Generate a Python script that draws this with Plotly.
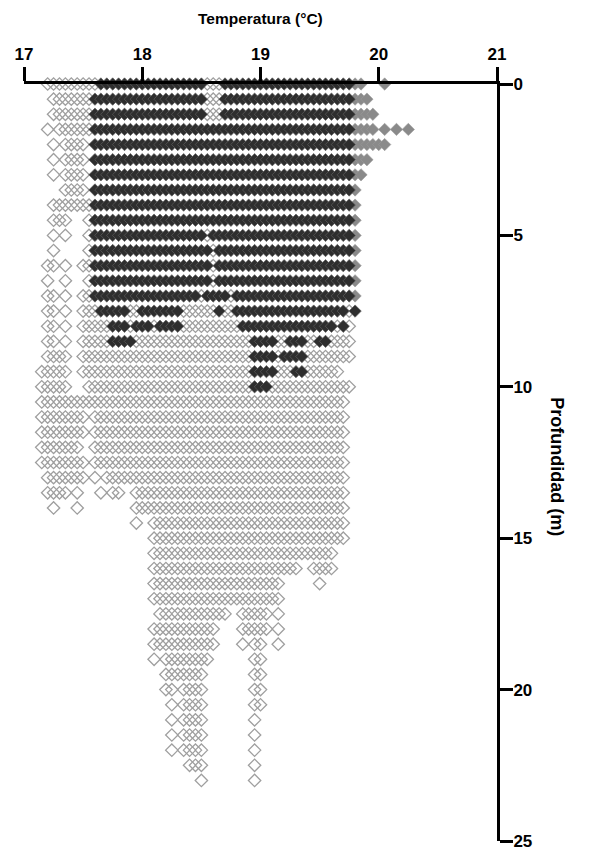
import plotly.graph_objects as go

# Depth of each measurement row (m)
DEPTHS = [0.0, 0.5, 1.0, 1.5, 2.0, 2.5, 3.0, 3.5, 4.0, 4.5, 5.0, 5.5, 6.0, 6.5,
          7.0, 7.5, 8.0, 8.5, 9.0, 9.5, 10.0, 10.5, 11.0, 11.5, 12.0, 12.5,
          13.0, 13.5, 14.0, 14.5, 15.0, 15.5, 16.0, 16.5, 17.0, 17.5, 18.0,
          18.5, 19.0, 19.5, 20.0, 20.5, 21.0, 21.5, 22.0, 22.5, 23.0]

# Temperature bins (°C) at which observations appear
TEMP_BINS = [17.00, 17.05, 17.10, 17.15, 17.20, 17.25, 17.30, 17.35, 17.40, 17.45,
             17.50, 17.55, 17.60, 17.65, 17.70, 17.75, 17.80, 17.85, 17.90, 17.95,
             18.00, 18.05, 18.10, 18.15, 18.20, 18.25, 18.30, 18.35, 18.40, 18.45,
             18.50, 18.55, 18.60, 18.65, 18.70, 18.75, 18.80, 18.85, 18.90, 18.95,
             19.00, 19.05, 19.10, 19.15, 19.20, 19.25, 19.30, 19.35, 19.40, 19.45,
             19.50, 19.55, 19.60, 19.65, 19.70, 19.75, 19.80, 19.85, 19.90, 19.95,
             20.00, 20.05, 20.10, 20.15, 20.20, 20.25, 20.30]

# Per depth row: run-length list of observation classes over TEMP_BINS
# '.' none, 'o' open diamond, 'g' grey diamond, 'd' dark diamond
ROWS = [
    "4. 9o 18d 3o 22d 2g 3. 1g",
    "5. 7o 19d 3o 22d 3g",
    "5. 7o 19d 3o 22d 4g",
    "4. 1o 1. 6o 44d 4g 1. 1g 1. 1g 1. 1g",
    "5. 1o 1. 4o 1. 44d 6g",
    "5. 1o 1. 4o 1. 44d 3g",
    "5. 1o 1. 4o 1. 44d 2g",
    "7. 4o 1. 44d 1g",
    "5. 7o 44d 1g",
    "5. 3o 3. 1o 44d 1g",
    "5. 1o 1. 1o 3. 1o 19d 1o 24d 1g",
    "5. 1o 5. 1o 20d 1o 23d 1g",
    "4. 2o 1. 1o 2. 2o 20d 1o 23d 1g",
    "4. 1o 2. 1o 3. 1o 20d 1o 23d 1g",
    "4. 2o 1. 1o 2. 2o 18d 1o 4d 1o 20d 1g",
    "4. 2o 1. 1o 2. 3o 5d 2o 7d 6o 1d 2o 19d 1o 1d",
    "4. 2o 1. 1o 2. 5o 3d 1o 3d 1o 4d 10o 16d 1o 1d 1o",
    "4. 2o 1. 1o 2. 5o 4d 20o 4d 2o 3d 2o 2d 4o",
    "4. 4o 2. 29o 4d 1o 4d 8o",
    "3. 5o 2. 29o 4d 3o 2d 6o",
    "3. 5o 3. 28o 3d 14o",
    "3. 52o",
    "3. 8o 1. 43o",
    "3. 8o 1. 43o",
    "3. 7o 2. 43o",
    "3. 8o 1. 43o",
    "4. 7o 1. 1o 1. 41o",
    "4. 4o 1. 1o 3. 1o 1. 2o 2. 36o",
    "5. 1o 3. 1o 9. 36o",
    "19. 1o 2. 33o",
    "22. 33o",
    "22. 31o",
    "22. 25o 2. 4o",
    "22. 22o 6. 1o",
    "22. 22o",
    "23. 12o 2. 5o 1. 1o",
    "22. 11o 4. 5o 1. 1o",
    "22. 11o 4. 1o 1. 2o 2. 1o",
    "22. 1o 1. 8o 7. 2o",
    "24. 7o 8. 2o",
    "24. 2o 1. 4o 8. 2o",
    "25. 1o 1. 4o 8. 2o",
    "25. 1o 1. 4o 8. 1o",
    "25. 1o 1. 4o 8. 1o",
    "25. 1o 1. 4o 8. 1o",
    "28. 3o 8. 1o",
    "30. 1o 8. 1o",
]

X_TICKS = [17, 18, 19, 20, 21]
Y_TICKS = [0, 5, 10, 15, 20, 25]


def decode(rle):
    out = []
    for tok in rle.split():
        n, c = int(tok[:-1]), tok[-1]
        out.extend([c] * n)
    return out


pts = {"o": ([], []), "g": ([], []), "d": ([], [])}
for depth, rle in zip(DEPTHS, ROWS):
    for t, c in zip(TEMP_BINS, decode(rle)):
        if c in pts:
            pts[c][0].append(t)
            pts[c][1].append(depth)

fig = go.Figure()
fig.add_trace(go.Scatter(
    x=pts["o"][0], y=pts["o"][1], mode="markers", cliponaxis=False,
    marker=dict(symbol="diamond-open", size=9.5, color="#9f9f9f",
                line=dict(width=1.3, color="#9f9f9f")),
    showlegend=False, hoverinfo="x+y"))
fig.add_trace(go.Scatter(
    x=pts["g"][0], y=pts["g"][1], mode="markers", cliponaxis=False,
    marker=dict(symbol="diamond", size=9.5, color="#8a8a8a",
                line=dict(width=0.6, color="#9a9a9a")),
    showlegend=False, hoverinfo="x+y"))
fig.add_trace(go.Scatter(
    x=pts["d"][0], y=pts["d"][1], mode="markers", cliponaxis=False,
    marker=dict(symbol="diamond", size=9.5, color="#2e2e2e",
                line=dict(width=0.7, color="#5e5e5e")),
    showlegend=False, hoverinfo="x+y"))

tickfont = dict(family="Arial", size=17, color="black", weight="bold")
fig.update_layout(
    width=591, height=850,
    margin=dict(l=24, r=94, t=84, b=9, autoexpand=False),
    paper_bgcolor="white", plot_bgcolor="white",
    xaxis=dict(range=[17, 21], side="top", tickvals=X_TICKS, automargin=False,
               ticks="outside", ticklen=14, tickwidth=2.5, tickcolor="black",
               showline=True, linewidth=2.5, linecolor="black",
               showgrid=False, zeroline=False, tickfont=tickfont,
               ticklabelstandoff=0, ticklabeloverflow="allow"),
    yaxis=dict(range=[25, 0], side="right", tickvals=Y_TICKS, automargin=False,
               ticks="outside", ticklen=13, tickwidth=2.5, tickcolor="black",
               showline=True, linewidth=3, linecolor="black",
               showgrid=False, zeroline=False, ticklabelstandoff=-3,
               ticklabeloverflow="allow",
               tickfont=dict(family="Arial", size=17, color="black", weight="bold")),
    annotations=[
        dict(text="Temperatura (°C)", xref="paper", yref="paper", x=0.5, y=1.087,
             showarrow=False, xanchor="center", yanchor="middle",
             font=dict(family="Arial", size=15.5, color="black", weight="bold")),
        dict(text="Profundidad (m)", xref="paper", yref="paper", x=1.127, y=0.495,
             showarrow=False, xanchor="center", yanchor="middle", textangle=90,
             font=dict(family="Arial", size=18, color="black", weight="bold")),
    ],
)

fig.write_html("out.html")
